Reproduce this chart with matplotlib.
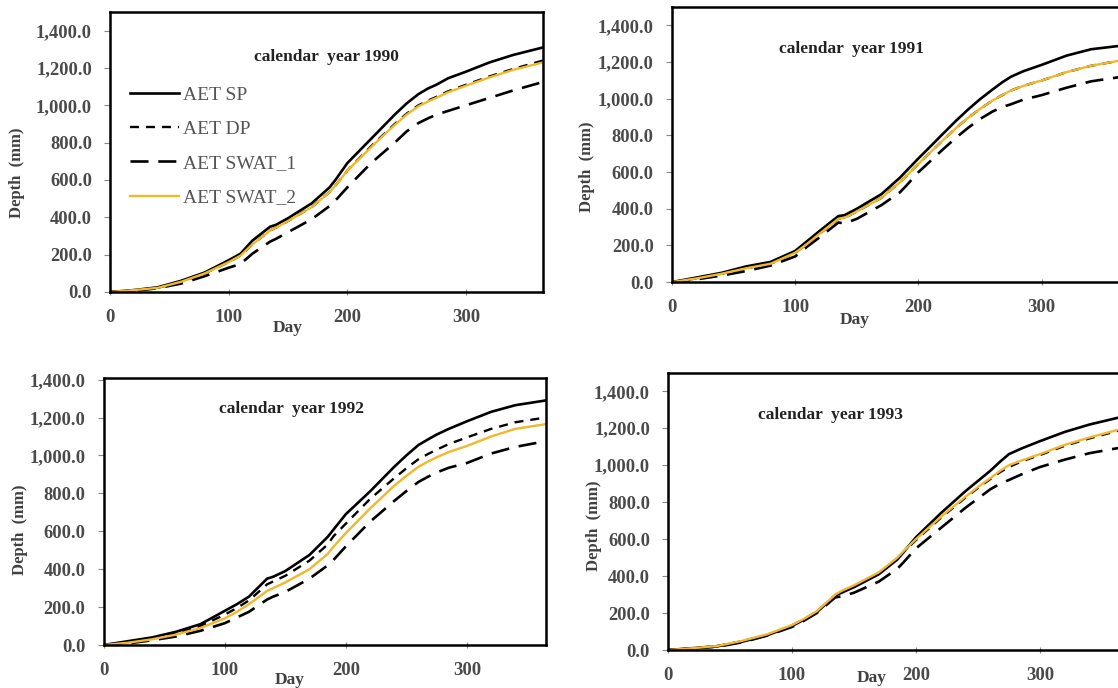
import matplotlib
matplotlib.use("Agg")
import matplotlib.pyplot as plt

plt.rcParams['font.family'] = ['Liberation Serif', 'DejaVu Serif']
plt.rcParams['lines.scale_dashes'] = False

# day of year shared by all series
days = [0, 20, 40, 60, 80, 100, 110, 120, 135, 140, 150, 170, 185, 190, 200,
        210, 220, 230, 240, 250, 260, 268, 275, 285, 300, 320, 340, 365]

series_names = ['AET SP', 'AET DP', 'AET SWAT_1', 'AET SWAT_2']

# 1990
sp_1990 = [0, 10, 25, 60, 105, 170, 205, 275, 350, 360, 395, 475, 560, 600,
           690, 755, 820, 885, 950, 1010, 1060, 1090, 1110, 1145, 1180, 1230,
           1270, 1310]
dp_1990 = [0, 10, 22, 55, 100, 160, 195, 255, 330, 345, 380, 455, 535, 570,
           650, 715, 780, 840, 900, 955, 1000, 1025, 1045, 1075, 1110, 1155,
           1195, 1240]
swat1_1990 = [0, 5, 20, 45, 85, 130, 150, 205, 270, 285, 320, 390, 460, 490,
              560, 625, 690, 745, 800, 860, 905, 930, 950, 970, 1000, 1040,
              1080, 1125]
swat2_1990 = [0, 10, 22, 55, 100, 160, 195, 255, 330, 345, 380, 455, 535, 570,
              650, 712, 775, 836, 895, 950, 995, 1020, 1040, 1070, 1105, 1150,
              1190, 1230]

# 1991
sp_1991 = [0, 25, 50, 85, 110, 170, 225, 280, 360, 365, 400, 480, 570, 605,
           675, 742, 810, 877, 940, 998, 1050, 1090, 1120, 1150, 1185, 1235,
           1270, 1290]
dp_1991 = [0, 20, 45, 75, 100, 160, 210, 265, 345, 350, 385, 460, 545, 578,
           645, 710, 775, 837, 895, 945, 990, 1020, 1045, 1070, 1100, 1145,
           1180, 1210]
swat1_1991 = [0, 15, 35, 60, 90, 140, 195, 245, 325, 320, 345, 420, 490, 525,
              600, 662, 725, 785, 840, 890, 930, 955, 970, 995, 1020, 1060,
              1095, 1120]
swat2_1991 = [0, 20, 45, 75, 100, 160, 210, 265, 345, 350, 385, 460, 545, 578,
              645, 710, 775, 837, 895, 945, 990, 1020, 1045, 1070, 1100, 1145,
              1180, 1210]

# 1992
sp_1992 = [0, 20, 40, 70, 110, 180, 215, 255, 350, 360, 390, 475, 570, 610,
           690, 750, 810, 875, 940, 1000, 1055, 1085, 1110, 1140, 1180, 1230,
           1265, 1290]
dp_1992 = [0, 15, 35, 60, 100, 160, 195, 235, 320, 335, 365, 445, 530, 575,
           640, 705, 770, 825, 880, 932, 980, 1008, 1030, 1060, 1095, 1140,
           1175, 1200]
swat1_1992 = [0, 8, 25, 45, 75, 115, 145, 175, 240, 255, 280, 350, 420, 450,
              520, 585, 650, 705, 760, 812, 860, 888, 910, 935, 960, 1010,
              1045, 1075]
swat2_1992 = [0, 12, 30, 55, 90, 140, 175, 215, 285, 300, 330, 400, 480, 520,
              590, 655, 720, 780, 840, 892, 940, 968, 990, 1018, 1050, 1100,
              1140, 1165]

# 1993
sp_1993 = [0, 10, 20, 45, 80, 130, 165, 205, 295, 310, 340, 410, 490, 530,
           610, 675, 740, 800, 860, 915, 970, 1020, 1060, 1090, 1130, 1180,
           1220, 1260]
dp_1993 = [0, 10, 22, 48, 82, 133, 168, 208, 298, 315, 345, 415, 495, 530,
           595, 655, 715, 770, 825, 877, 925, 963, 990, 1020, 1055, 1105,
           1145, 1190]
swat1_1993 = [0, 8, 18, 42, 78, 125, 160, 200, 285, 290, 310, 370, 440, 475,
              550, 605, 660, 715, 770, 820, 870, 900, 920, 950, 990, 1030,
              1065, 1095]
swat2_1993 = [0, 10, 22, 50, 85, 135, 170, 210, 300, 320, 350, 420, 500, 535,
              600, 660, 720, 775, 830, 882, 930, 970, 1000, 1025, 1060, 1110,
              1150, 1195]

years = ['1990', '1991', '1992', '1993']
data = {
    '1990': [sp_1990, dp_1990, swat1_1990, swat2_1990],
    '1991': [sp_1991, dp_1991, swat1_1991, swat2_1991],
    '1992': [sp_1992, dp_1992, swat1_1992, swat2_1992],
    '1993': [sp_1993, dp_1993, swat1_1993, swat2_1993],
}

styles = [
    dict(color='black', lw=1.9, ls='-'),
    dict(color='black', lw=1.7, dashes=(6.5, 5)),
    dict(color='black', lw=1.9, dashes=(13, 7)),
    dict(color='#F0B82A', lw=1.7, ls='-'),
]

# panel layout: axes rect, y max, title pos, xlabel pos, ylabel pos
panels = {
    '1990': dict(rect=[0.0984, 0.5756, 0.3873, 0.407], ymax=1500,
                 title=(0.50, 0.839), xl=(0.41, -0.129), yl=(-0.215, 0.425)),
    '1991': dict(rect=[0.601, 0.590, 0.4025, 0.3997], ymax=1500,
                 title=(0.398, 0.847), xl=(0.406, -0.138), yl=(-0.189, 0.42)),
    '1992': dict(rect=[0.0927, 0.0625, 0.3953, 0.3885], ymax=1410,
                 title=(0.424, 0.883), xl=(0.42, -0.131), yl=(-0.19, 0.43)),
    '1993': dict(rect=[0.5975, 0.0552, 0.4048, 0.403], ymax=1500,
                 title=(0.36, 0.847), xl=(0.45, -0.101), yl=(-0.163, 0.448)),
}

fig = plt.figure(figsize=(11.18, 6.88), dpi=100)

for yr in years:
    p = panels[yr]
    ax = fig.add_axes(p['rect'])
    for vals, name, st in zip(data[yr], series_names, styles):
        ax.plot(days, vals, label=name, **st)

    ax.set_xlim(0, 365)
    ax.set_ylim(0, p['ymax'])
    ax.set_xticks([0, 100, 200, 300])
    ax.set_yticks(range(0, 1401, 200))
    ax.set_yticklabels([f'{v:,.1f}' for v in range(0, 1401, 200)])

    for s in ax.spines.values():
        s.set_linewidth(1.8)
    ax.tick_params(axis='y', direction='out', length=4, width=0.8,
                   color='#888888', pad=9, labelsize=13.3,
                   labelcolor='#4a4a4a')
    ax.tick_params(axis='x', direction='inout', length=5, width=0.8,
                   color='#888888', pad=10, labelsize=13.5,
                   labelcolor='#4a4a4a')
    for lab in ax.get_xticklabels() + ax.get_yticklabels():
        lab.set_fontweight('bold')

    ax.text(p['title'][0], p['title'][1], f'calendar  year {yr}',
            transform=ax.transAxes, ha='center', va='center', fontsize=12.5,
            fontweight='bold', color='#222222')

    ax.set_xlabel('Day', fontsize=12.5, fontweight='bold', color='#404040',
                  va='center')
    ax.xaxis.set_label_coords(*p['xl'])
    ax.set_ylabel('Depth  (mm)', fontsize=12, fontweight='bold',
                  color='#404040', va='center', ha='center')
    ax.yaxis.set_label_coords(*p['yl'])

    if yr == '1990':
        leg = ax.legend(loc='upper left', bbox_to_anchor=(0.046, 0.736),
                        frameon=False, fontsize=14, handlelength=2.5,
                        handletextpad=0.25, labelspacing=0.86, borderpad=0,
                        borderaxespad=0)
        for t in leg.get_texts():
            t.set_color('#555555')

fig.savefig('out.png', dpi=100)
